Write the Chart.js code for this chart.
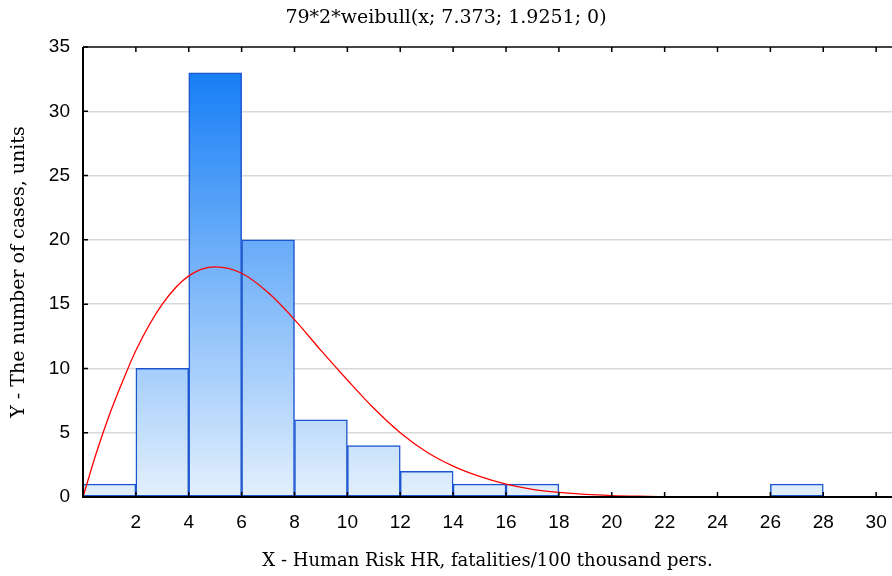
<!DOCTYPE html>
<html>
<head>
<meta charset="utf-8">
<title>Weibull fit</title>
<script src="https://cdn.jsdelivr.net/npm/chart.js@4.4.1/dist/chart.umd.min.js"></script>
<style>
    html, body { margin: 0; padding: 0; background: #fff; }
    #wrap { width: 892px; height: 576px; }
</style>
</head>
<body>
<div id="wrap"><canvas id="histChart" width="892" height="576"></canvas></div>
<script>
// ============================================================================
// DATA
// ============================================================================

const binStarts = [0, 2, 4, 6, 8, 10, 12, 14, 16, 18, 20, 22, 24, 26, 28];
const binWidth = 2;
const counts = [1, 10, 33, 20, 6, 4, 2, 1, 1, 0, 0, 0, 0, 1, 0];

// fitted curve
const curveX = [0, 0.5, 1, 1.5, 2, 3, 4, 5, 6, 7, 8, 9, 10, 11, 12, 13, 14, 15, 16, 17, 18, 19, 20, 21, 22, 22.4];
const curveY = [0, 3.4, 6.4, 9.0, 11.4, 15.0, 17.2, 17.9, 17.4, 15.9, 13.8, 11.4, 9.1, 6.9, 5.0, 3.5, 2.4, 1.6, 1.0, 0.6, 0.36, 0.2, 0.11, 0.06, 0.03, 0.02];

const xTicks = [0, 2, 4, 6, 8, 10, 12, 14, 16, 18, 20, 22, 24, 26, 28, 30];
const yTicks = [0, 5, 10, 15, 20, 25, 30, 35];

const titleText = '79*2*weibull(x; 7.373; 1.9251; 0)';
const xTitle = 'X - Human Risk HR, fatalities/100 thousand pers.';
const yTitle = 'Y - The number of cases, units';

// ============================================================================
// HELPERS
// ============================================================================

const serif = "'DejaVu Serif', serif";
const sans = "'Liberation Sans', Arial, sans-serif";

function barGradient(context) {
    const area = context.chart.chartArea;
    if (!area) return '#8fc3fa';
    const g = context.chart.ctx.createLinearGradient(0, area.bottom, 0, area.top);
    g.addColorStop(0, '#e3f0fd');
    g.addColorStop(1, '#0a77f5');
    return g;
}

// frame lines and inward tick marks
const framePlugin = {
    id: 'frame',
    afterDraw(chart) {
        const { ctx, chartArea: a, scales: { x, y } } = chart;
        ctx.save();
        ctx.strokeStyle = '#000';
        ctx.lineWidth = 2;
        ctx.beginPath();
        ctx.moveTo(a.left, a.top);
        ctx.lineTo(a.left, a.bottom);
        ctx.lineTo(a.right, a.bottom);
        ctx.stroke();

        ctx.strokeStyle = '#444';
        ctx.beginPath();
        ctx.moveTo(a.left, a.top);
        ctx.lineTo(a.right, a.top);
        ctx.stroke();

        ctx.strokeStyle = '#000';
        ctx.lineWidth = 1.5;
        ctx.beginPath();
        yTicks.forEach(v => {
            const py = y.getPixelForValue(v);
            ctx.moveTo(a.left, py);
            ctx.lineTo(a.left + 5, py);
        });
        xTicks.forEach(v => {
            if (v === 0) return;
            const px = x.getPixelForValue(v);
            ctx.moveTo(px, a.bottom);
            ctx.lineTo(px, a.bottom - 5);
            ctx.moveTo(px, a.top);
            ctx.lineTo(px, a.top + 5);
        });
        ctx.stroke();
        ctx.restore();
    }
};

// ============================================================================
// CHART
// ============================================================================

const ctx = document.getElementById('histChart').getContext('2d');
const histChart = new Chart(ctx, {
    data: {
        datasets: [{
            type: 'bar',
            label: 'Cases',
            data: binStarts.map((s, i) => ({ x: s + binWidth / 2, y: counts[i] })),
            backgroundColor: barGradient,
            borderColor: '#1b55cf',
            borderWidth: 1.5,
            borderSkipped: false,
            barPercentage: 1,
            categoryPercentage: 1,
            order: 2
        }, {
            type: 'line',
            label: 'Weibull',
            data: curveX.map((v, i) => ({ x: v, y: curveY[i] })),
            borderColor: '#ff0000',
            borderWidth: 1.3,
            pointRadius: 0,
            fill: false,
            cubicInterpolationMode: 'monotone',
            order: 1
        }]
    },
    options: {
        responsive: false,
        animation: false,
        layout: { padding: 0 },
        plugins: {
            legend: { display: false },
            tooltip: { enabled: false },
            title: {
                display: true,
                text: titleText,
                color: '#000',
                font: { family: serif, size: 19, weight: 'normal' },
                padding: { top: 7, bottom: 17.2 }
            }
        },
        scales: {
            x: {
                type: 'linear',
                offset: false,
                min: 0,
                max: 30.6,
                afterBuildTicks: scale => { scale.ticks = xTicks.map(v => ({ value: v })); },
                afterFit: scale => {
                    scale.height = 79;
                    scale.paddingLeft = 0;
                    scale.paddingRight = 0;
                },
                grid: { display: false, drawTicks: false, offset: false },
                border: { display: false },
                ticks: {
                    color: '#000',
                    font: { family: sans, size: 19 },
                    padding: 14,
                    maxRotation: 0,
                    autoSkip: false,
                    callback: v => (v === 0 ? '' : v)
                },
                title: {
                    display: true,
                    text: xTitle,
                    color: '#000',
                    font: { family: serif, size: 18 },
                    padding: { top: 0, bottom: 4.2 }
                }
            },
            y: {
                min: 0,
                max: 35,
                afterBuildTicks: scale => { scale.ticks = yTicks.map(v => ({ value: v })); },
                afterFit: scale => { scale.width = 83; },
                grid: { color: '#d9d9d9', lineWidth: 1.5, drawTicks: false },
                border: { display: false },
                ticks: {
                    color: '#000',
                    font: { family: sans, size: 19 },
                    padding: 13
                },
                title: {
                    display: true,
                    text: yTitle,
                    color: '#000',
                    font: { family: serif, size: 19 },
                    padding: { top: 7.6, bottom: 0 }
                }
            }
        }
    },
    plugins: [framePlugin]
});
</script>
</body>
</html>
